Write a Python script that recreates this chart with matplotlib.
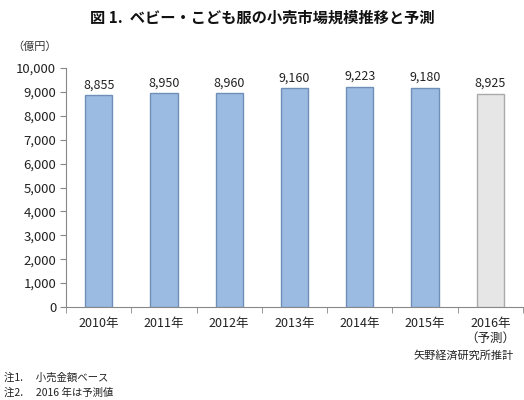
import matplotlib
matplotlib.use("Agg")
import matplotlib.pyplot as plt
import numpy as np

plt.rcParams["font.family"] = ["Noto Sans CJK JP", "DejaVu Sans"]

YEARS  = ["2010年", "2011年", "2012年", "2013年", "2014年", "2015年", "2016年\n（予測）"]
VALUES = [8855, 8950, 8960, 9160, 9223, 9180, 8925]
FORECAST = [False, False, False, False, False, False, True]

BLUE      = "#9cbbe2"
BLUE_EDGE = "#6f8fb8"
GRAY      = "#e6e6e6"
GRAY_EDGE = "#aaaaaa"
AXIS_COL  = "#888888"


def draw():
    fig = plt.figure(figsize=(5.24, 4.0), dpi=100)
    fig.patch.set_facecolor("white")
    ax = fig.add_axes([66 / 524, 1 - 307 / 400, (523 - 66) / 524, (307 - 68) / 400])

    x = np.arange(len(YEARS))
    colors = [GRAY if f else BLUE for f in FORECAST]
    edges = [GRAY_EDGE if f else BLUE_EDGE for f in FORECAST]
    ax.bar(x, VALUES, width=0.42, color=colors, edgecolor=edges, linewidth=1.0, zorder=3)

    for xi, v in zip(x, VALUES):
        ax.text(xi, v + 150, f"{v:,}", ha="center", va="bottom", fontsize=9, color="#222222")

    ax.set_xlim(-0.5, len(YEARS) - 0.5)
    ax.set_ylim(0, 10000)
    ax.set_yticks(range(0, 10001, 1000))
    ax.set_yticklabels([f"{t:,}" for t in range(0, 10001, 1000)], fontsize=9.5, color="#222222")
    ax.set_xticks(x)
    ax.set_xticklabels(YEARS, fontsize=9, color="#222222", linespacing=1.2, va="top")
    ax.tick_params(axis="x", length=0, pad=7)
    ax.tick_params(axis="y", length=4, color=AXIS_COL, pad=3)
    # category separator ticks on x-axis
    ax.set_xticks(np.arange(-0.5, len(YEARS)), minor=True)
    ax.tick_params(axis="x", which="minor", length=4, color=AXIS_COL)

    for s in ["top", "right"]:
        ax.spines[s].set_visible(False)
    ax.spines["left"].set_color(AXIS_COL)
    ax.spines["bottom"].set_color(AXIS_COL)

    fig.text(0.5, 1 - 18 / 400, "図 1.  ベビー・こども服の小売市場規模推移と予測",
             ha="center", va="center", fontsize=11, fontweight="bold", color="#111111")
    fig.text(12 / 524, 1 - 47 / 400, "（億円）", ha="left", va="center", fontsize=8, color="#333333")
    fig.text(514 / 524, 1 - 356 / 400, "矢野経済研究所推計", ha="right", va="center",
             fontsize=8, color="#222222")
    fig.text(4 / 524, 1 - 378 / 400, "注1.　 小売金額ベース", ha="left", va="center",
             fontsize=7.5, color="#222222")
    fig.text(4 / 524, 1 - 393 / 400, "注2.　 2016 年は予測値", ha="left", va="center",
             fontsize=7.5, color="#222222")

    fig.savefig("out.png", dpi=100, facecolor="white")
    plt.close(fig)


if __name__ == "__main__":
    draw()
